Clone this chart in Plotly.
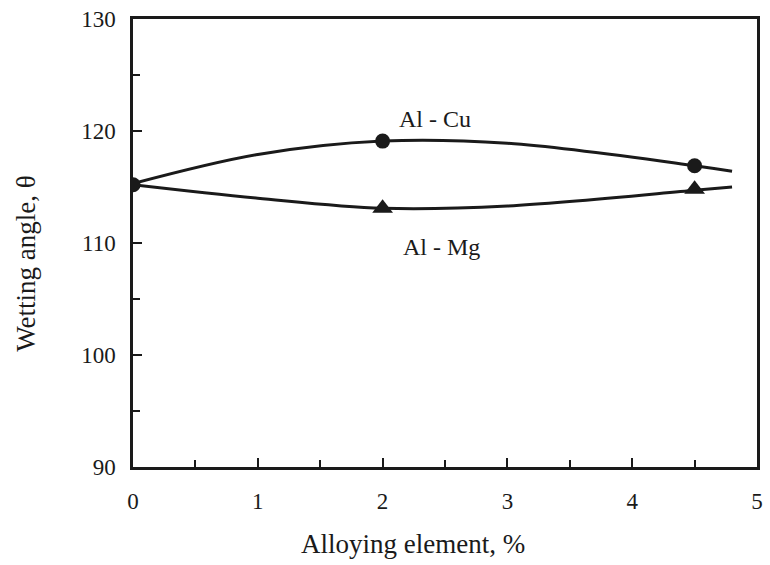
import plotly.graph_objects as go

# Data
cu_x = [0, 2, 4.5]
cu_y = [115.2, 119.1, 116.9]
mg_x = [0, 2, 4.5]
mg_y = [115.2, 113.1, 114.8]
# smooth curve paths (extend slightly beyond last point)
cu_curve_x = [0, 1, 2, 3, 4.5, 4.8]
cu_curve_y = [115.3, 117.9, 119.1, 118.9, 116.9, 116.4]
mg_curve_x = [0, 1, 2, 3, 4.5, 4.8]
mg_curve_y = [115.2, 114.0, 113.1, 113.3, 114.7, 115.0]

FONT = "Liberation Serif, Times New Roman, serif"
INK = "#1a1a1a"

fig = go.Figure()
fig.add_trace(go.Scatter(x=cu_curve_x, y=cu_curve_y, mode="lines",
                         line=dict(color=INK, width=3, shape="spline", smoothing=1.0),
                         showlegend=False, hoverinfo="skip"))
fig.add_trace(go.Scatter(x=mg_curve_x, y=mg_curve_y, mode="lines",
                         line=dict(color=INK, width=3, shape="spline", smoothing=1.0),
                         showlegend=False, hoverinfo="skip"))
fig.add_trace(go.Scatter(x=cu_x, y=cu_y, mode="markers", name="Al - Cu",
                         marker=dict(symbol="circle", size=15, color=INK),
                         showlegend=False))
fig.add_trace(go.Scatter(x=mg_x[1:], y=mg_y[1:], mode="markers", name="Al - Mg",
                         marker=dict(symbol="triangle-up", size=18, color=INK),
                         showlegend=False))

fig.add_annotation(x=2.42, y=121.1, text="Al - Cu", showarrow=False,
                   font=dict(family=FONT, size=24, color=INK))
fig.add_annotation(x=2.47, y=109.6, text="Al - Mg", showarrow=False,
                   font=dict(family=FONT, size=24, color=INK))

# Axis titles (placed as annotations to match the reference's off-centre placement)
fig.add_annotation(xref="paper", yref="paper", x=0.449, y=-0.134,
                   xanchor="center", yanchor="top",
                   text="Alloying element, %", showarrow=False,
                   font=dict(family=FONT, size=27, color=INK))
fig.add_annotation(xref="paper", yref="paper", x=-0.172, y=0.453,
                   xanchor="center", yanchor="middle",
                   text="Wetting angle, θ", showarrow=False, textangle=-90,
                   font=dict(family=FONT, size=27, color=INK))

fig.update_layout(
    width=770, height=565,
    margin=dict(l=133, r=7, t=17, b=98),
    paper_bgcolor="white", plot_bgcolor="white",
    font=dict(family=FONT, size=23, color=INK),
    xaxis=dict(range=[0, 5], tickmode="array", tickvals=[0, 1, 2, 3, 4, 5],
               ticktext=["0", "1", "2", "3", "4", "5"],
               showgrid=False, zeroline=False, showline=True, linecolor=INK,
               linewidth=2.5, mirror=True, ticks="inside", ticklen=9, tickwidth=2,
               tickcolor=INK, ticklabelstandoff=12,
               minor=dict(dtick=0.5, ticks="inside", ticklen=7, tickwidth=2, tickcolor=INK)),
    yaxis=dict(range=[90, 130], tickmode="array", tickvals=[90, 100, 110, 120, 130],
               showgrid=False, zeroline=False, showline=True, linecolor=INK,
               linewidth=2.5, mirror=True, ticks="inside", ticklen=9, tickwidth=2,
               tickcolor=INK, ticklabelstandoff=10,
               minor=dict(dtick=5, ticks="inside", ticklen=7, tickwidth=2, tickcolor=INK)),
)

fig.write_html("out.html")
